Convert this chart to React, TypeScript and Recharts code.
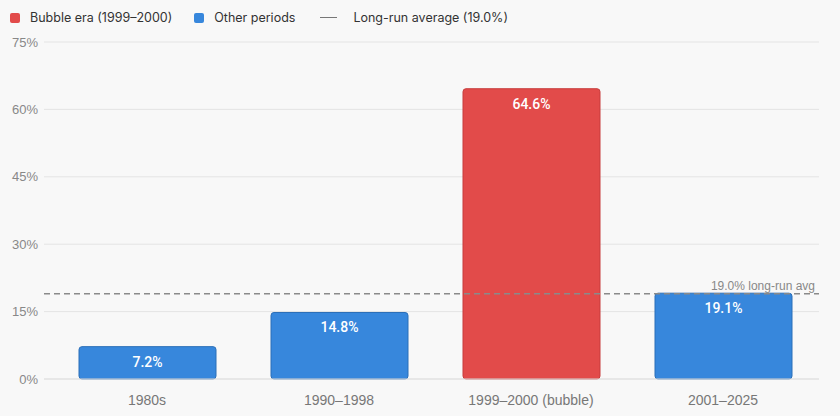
import { BarChart, Bar, XAxis, YAxis, CartesianGrid, ReferenceLine, LabelList, Cell } from 'recharts';

const periods = ['1980s', '1990–1998', '1999–2000 (bubble)', '2001–2025'];
const returns = [7.2, 14.8, 64.6, 19.1];
const isBubble = [false, false, true, false];
const yTicks = [0, 15, 30, 45, 60, 75];
const longRunAvg = 19.0;

const RED = '#e24b4a';
const RED_EDGE = '#c73d3c';
const BLUE = '#3787dc';
const BLUE_EDGE = '#2b6fb8';

const data = periods.map((period, i) => ({ period, value: returns[i], bubble: isBubble[i] }));

const legendFont = 'Inter, "Noto Sans", sans-serif';
const axisFont = '"Liberation Sans", Arial, sans-serif';

function Legend() {
  const item = { display: 'flex', alignItems: 'center', marginRight: 22 } as const;
  const swatch = (c: string) => ({ width: 10, height: 10, borderRadius: 2, background: c, marginRight: 10 });
  return (
    <div
      style={{
        position: 'absolute',
        top: 10,
        left: 10,
        display: 'flex',
        fontFamily: legendFont,
        fontSize: 12.5,
        color: '#333',
      }}
    >
      <div style={item}>
        <div style={swatch(RED)} />
        Bubble era (1999–2000)
      </div>
      <div style={item}>
        <div style={swatch(BLUE)} />
        Other periods
      </div>
      <div style={item}>
        <div style={{ width: 17, height: 1.5, background: '#777', marginRight: 16, marginLeft: 3 }} />
        Long-run average (19.0%)
      </div>
    </div>
  );
}

export default function App() {
  return (
    <div style={{ position: 'absolute', top: 0, left: 0, width: 840, height: 416, background: '#f8f8f8' }}>
      <Legend />
      <BarChart
        width={840}
        height={416}
        data={data}
        margin={{ top: 42, right: 21, left: 0, bottom: 0 }}
        barSize={137}
      >
        <CartesianGrid vertical={false} stroke="#e4e4e4" />
        <XAxis
          dataKey="period"
          height={37}
          padding={{ left: 7, right: 0 }}
          tickLine={false}
          axisLine={{ stroke: '#e0e0e0' }}
          tick={{ fill: '#777', fontSize: 14, fontFamily: axisFont }}
          tickMargin={10}
        />
        <YAxis
          width={44}
          domain={[0, 75]}
          ticks={yTicks}
          tickFormatter={(v: number) => `${v}%`}
          tickLine={false}
          axisLine={false}
          tickMargin={0}
          tick={{ fill: '#888', fontSize: 13, fontFamily: axisFont }}
        />
        <Bar dataKey="value" radius={[3, 3, 3, 3]} strokeWidth={1} isAnimationActive={false}>
          {data.map((d) => (
            <Cell key={d.period} fill={d.bubble ? RED : BLUE} stroke={d.bubble ? RED_EDGE : BLUE_EDGE} />
          ))}
          <LabelList
            dataKey="value"
            position="insideTop"
            offset={10}
            formatter={(v: number) => `${v.toFixed(1)}%`}
            style={{ fill: '#fff', fontSize: 14, fontWeight: 500, fontFamily: 'Roboto, sans-serif' }}
          />
        </Bar>
        <ReferenceLine
          y={longRunAvg}
          stroke="#8a8a8a"
          strokeWidth={1.5}
          strokeDasharray="6 4"
          label={{
            value: '19.0% long-run avg',
            position: 'insideBottomRight',
            offset: 4,
            fill: '#888',
            fontSize: 12,
            fontFamily: axisFont,
          }}
        />
      </BarChart>
    </div>
  );
}
